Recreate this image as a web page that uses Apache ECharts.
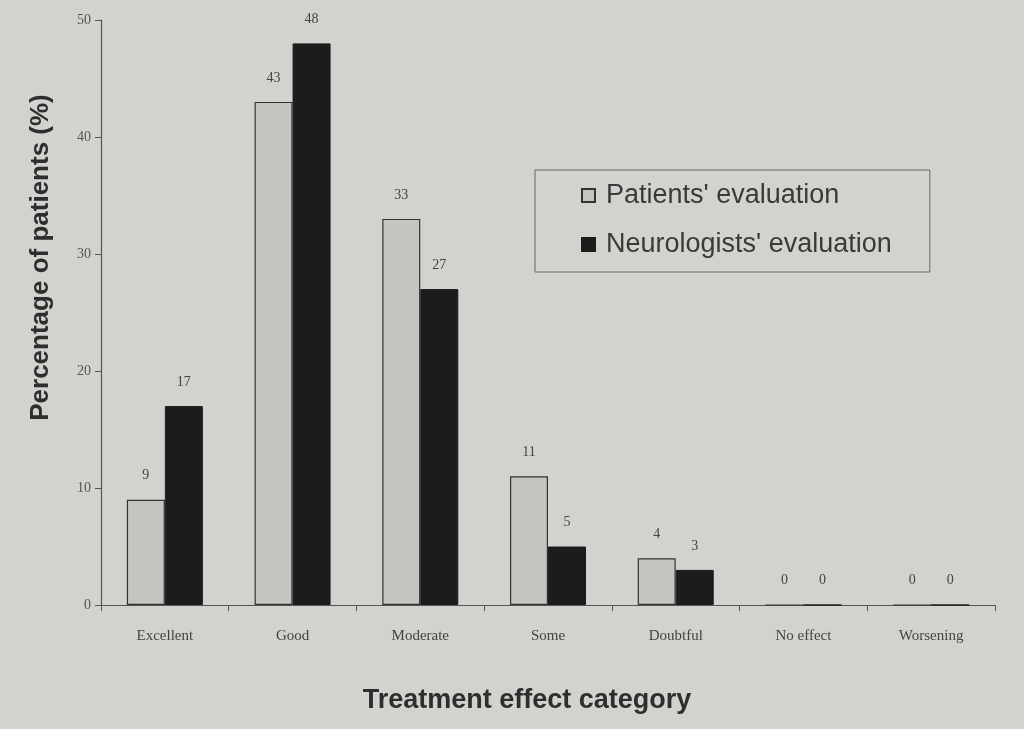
<!DOCTYPE html>
<html><head><meta charset="utf-8">
<script src="https://cdn.jsdelivr.net/npm/echarts@6/dist/echarts.min.js"></script>
<style>html,body{margin:0;padding:0;background:#d2d2ce;}#c{width:1024px;height:729px;}</style>
</head><body><div id="c"></div>
<script>
const categories = ['Excellent','Good','Moderate','Some','Doubtful','No effect','Worsening'];
const patients = [9, 43, 33, 11, 4, 0, 0];
const neurologists = [17, 48, 27, 5, 3, 0, 0];
const yTicks = [0, 10, 20, 30, 40, 50];

const serif = '"Liberation Serif","DejaVu Serif",serif';
const sans = '"Liberation Sans","DejaVu Sans",sans-serif';
const chart = echarts.init(document.getElementById('c'));
chart.setOption({
  backgroundColor: '#d2d2ce',
  animation: false,
  grid: {left: 101, right: 29, top: 20, bottom: 124},
  legend: {
    orient: 'vertical', left: 535, top: 170,
    padding: [12, 38, 14, 46], itemGap: 22,
    borderColor: '#666', borderWidth: 1,
    itemWidth: 13, itemHeight: 13,
    textStyle: {fontFamily: sans, fontSize: 27, color: '#3a3a3a', padding: [0, 0, 0, 6]},
    data: [
      {name: "Patients' evaluation", icon: 'rect'},
      {name: "Neurologists' evaluation", icon: 'rect'}
    ]
  },
  xAxis: {
    type: 'category', data: categories,
    name: 'Treatment effect category', nameLocation: 'middle', nameGap: 82,
    nameTextStyle: {fontFamily: sans, fontSize: 27, fontWeight: 'bold', color: '#2e2e2e', padding: [0, 42, 0, 0]},
    axisLine: {lineStyle: {color: '#555', width: 1.2}},
    axisTick: {show: true, length: 6, lineStyle: {color: '#555'}},
    axisLabel: {fontFamily: serif, fontSize: 15, color: '#444', margin: 24}
  },
  yAxis: {
    type: 'value', min: yTicks[0], max: yTicks[yTicks.length-1], interval: 10,
    name: 'Percentage of patients (%)', nameLocation: 'middle', nameGap: 47,
    nameTextStyle: {fontFamily: sans, fontSize: 26, fontWeight: 'bold', color: '#2e2e2e', padding: [0, 0, 0, 110]},
    axisLine: {show: true, lineStyle: {color: '#555', width: 1.2}},
    axisTick: {show: true, length: 6, lineStyle: {color: '#555'}},
    axisLabel: {fontFamily: serif, fontSize: 14, color: '#555', margin: 10},
    splitLine: {show: false}
  },
  series: [
    {
      name: "Patients' evaluation", type: 'bar', data: patients,
      barWidth: 38, barGap: '0%',
      itemStyle: {color: '#c4c4c0', borderColor: '#333', borderWidth: 1.2},
      label: {show: true, position: 'top', distance: 17, fontFamily: serif, fontSize: 14, color: '#444'}
    },
    {
      name: "Neurologists' evaluation", type: 'bar', data: neurologists,
      barWidth: 38, barGap: '0%',
      itemStyle: {color: '#1c1c1c', borderColor: '#1c1c1c', borderWidth: 1},
      label: {show: true, position: 'top', distance: 17, fontFamily: serif, fontSize: 14, color: '#444'}
    }
  ]
});
</script></body></html>
